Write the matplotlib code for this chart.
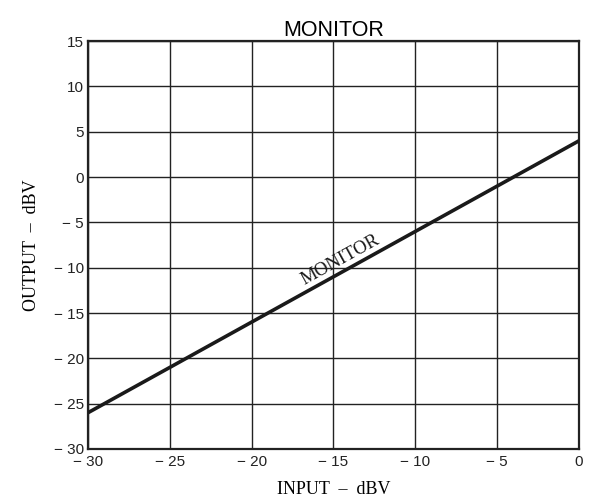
import matplotlib
matplotlib.use('Agg')
import matplotlib.pyplot as plt

# Dati
input_dbv = [-30, 0]
output_dbv = [-26, 4]

x_ticks = [-30, -25, -20, -15, -10, -5, 0]
x_tick_labels = ['\u2212 30', '\u2212 25', '\u2212 20', '\u2212 15', '\u2212 10', '\u2212 5', '0']
y_ticks = [-30, -25, -20, -15, -10, -5, 0, 5, 10, 15]
y_tick_labels = ['\u2212 30', '\u2212 25', '\u2212 20', '\u2212 15', '\u2212 10', '\u2212 5', '0', '5', '10', '15']

fig = plt.figure(figsize=(5.92, 5.01), dpi=100)
ax = fig.add_axes([0.1486, 0.1038, 0.978 - 0.1486, 0.918 - 0.1038])

ax.plot(input_dbv, output_dbv, color='#1a1a1a', linewidth=2.6, solid_capstyle='butt', zorder=3)

ax.set_xlim(-30, 0)
ax.set_ylim(-30, 15)
ax.set_xticks(x_ticks)
ax.set_xticklabels(x_tick_labels, family='Liberation Sans', fontsize=11)
ax.set_yticks(y_ticks)
ax.set_yticklabels(y_tick_labels, family='Liberation Sans', fontsize=11)
ax.tick_params(length=0, colors='#222222')
ax.tick_params(axis='x', pad=4)
ax.tick_params(axis='y', pad=3)

ax.grid(True, color='#222222', linewidth=1.0)
for s in ax.spines.values():
    s.set_color('#222222')
    s.set_linewidth(1.6)

# Etichetta lungo la retta
ax.text(-14.3, -10.0, 'MONITOR', family='Liberation Serif', fontsize=13.5,
        rotation=45, rotation_mode='anchor', transform_rotates_text=True,
        ha='center', va='bottom', color='#1a1a1a')

ax.set_title('MONITOR', family='Liberation Sans', fontsize=15.5, pad=2)
ax.set_xlabel('INPUT  \u2013  dBV', family='Liberation Serif', fontsize=13, labelpad=9)
ax.set_ylabel('OUTPUT  \u2013  dBV', family='Liberation Serif', fontsize=13, labelpad=10)

fig.savefig('out.png', dpi=100)
